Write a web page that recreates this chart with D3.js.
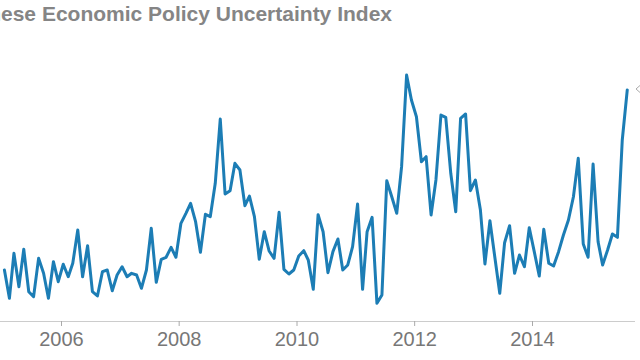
<!DOCTYPE html>
<html>
<head>
<meta charset="utf-8">
<script src="https://cdn.jsdelivr.net/npm/d3@7"></script>
<style>
  html, body { margin: 0; padding: 0; background: #fff; }
  svg { display: block; }
</style>
</head>
<body>
<svg id="chart" width="640" height="360"></svg>
<script>
// ---- data ----
const title = "Chinese Economic Policy Uncertainty Index";
const startMonth = "2005-01-15";   // first monthly observation
const epuValues = [
  85.7, 45.3, 109.6, 61.9, 115.3, 54.7, 47.6, 102.4, 81.0, 45.3, 97.6, 69.0,
  93.9, 76.1, 95.3, 142.9, 76.1, 120.4, 54.7, 48.6, 83.3, 85.7, 56.1, 78.6,
  90.4, 76.1, 81.0, 78.6, 59.6, 85.7, 145.3, 68.1, 101.0, 103.9, 118.1, 103.9,
  152.4, 166.7, 181.0, 154.7, 111.0, 165.3, 161.9, 209.6, 301.4, 194.3, 199.0, 238.1,
  228.6, 177.6, 191.4, 161.9, 101.0, 140.4, 112.9, 102.4, 168.1, 86.7, 80.0, 85.7,
  105.7, 113.3, 100.0, 58.1, 164.7, 140.4, 81.9, 111.9, 130.0, 85.7, 92.9, 119.0,
  180.0, 58.1, 140.4, 161.0, 38.1, 50.0, 213.3, 190.4, 166.7, 233.3, 364.3, 328.6,
  304.7, 240.4, 247.6, 164.3, 214.3, 307.1, 303.9, 223.9, 169.0, 302.4, 308.6, 199.0,
  214.3, 171.4, 94.3, 156.1, 104.7, 52.4, 124.7, 149.0, 81.0, 107.1, 90.4, 146.1,
  111.9, 77.1, 143.9, 95.3, 91.4, 111.9, 135.7, 157.1, 190.4, 245.3, 122.9, 103.9,
  237.1, 126.1, 92.9, 114.3, 137.1, 132.4, 271.4, 342.9
];
const tickYears = [2006, 2008, 2010, 2012, 2014];
const tickLabels = ["2006", "2008", "2010", "2012", "2014"];

// ---- build ----
const parse = d3.timeParse("%Y-%m-%d");
const start = parse(startMonth);
const data = epuValues.map((v, i) => ({ date: d3.timeMonth.offset(start, i), value: v }));

const svg = d3.select("#chart");

const x = d3.scaleTime()
  .domain([new Date(2006, 0, 1), new Date(2014, 0, 1)])
  .range([61, 532]);

const y = d3.scaleLinear()
  .domain([0, 400])
  .range([330, 50]);

// title (cropped at the left edge like the reference)
svg.append("text")
  .attr("x", 392)
  .attr("y", 21)
  .attr("text-anchor", "end")
  .attr("font-family", "Liberation Sans, Arial, Helvetica, sans-serif")
  .attr("font-weight", "bold")
  .attr("font-size", 21)
  .attr("fill", "#858585")
  .text(title);

// x axis
const axisY = 321;
svg.append("line")
  .attr("x1", 0).attr("x2", 635)
  .attr("y1", axisY + 0.5).attr("y2", axisY + 0.5)
  .attr("stroke", "#cccccc").attr("stroke-width", 1);

const axis = d3.axisBottom(x)
  .tickValues(tickYears.map(yr => new Date(yr, 0, 1)))
  .tickFormat((d, i) => tickLabels[i])
  .tickSize(5)
  .tickPadding(6);

const gx = svg.append("g")
  .attr("transform", `translate(0,${axisY})`)
  .call(axis);
gx.select(".domain").remove();
gx.selectAll(".tick line").attr("stroke", "#aaaaaa");
gx.selectAll(".tick text")
  .attr("font-family", "Liberation Sans, Arial, Helvetica, sans-serif")
  .attr("font-size", 20)
  .attr("fill", "#777777");

// line
const line = d3.line()
  .x(d => x(d.date))
  .y(d => y(d.value));

svg.append("path")
  .datum(data)
  .attr("fill", "none")
  .attr("stroke", "#1c7db5")
  .attr("stroke-width", 3)
  .attr("stroke-linejoin", "round")
  .attr("stroke-linecap", "round")
  .attr("d", line);

// small chevron marker at the right edge, aligned with the last value
const last = data[data.length - 1];
const my = y(last.value) - 1;
svg.append("path")
  .attr("d", `M640,${my - 3.5}L636,${my}L640,${my + 3.5}`)
  .attr("fill", "none")
  .attr("stroke", "#aaaaaa")
  .attr("stroke-width", 1);
</script>
</body>
</html>
